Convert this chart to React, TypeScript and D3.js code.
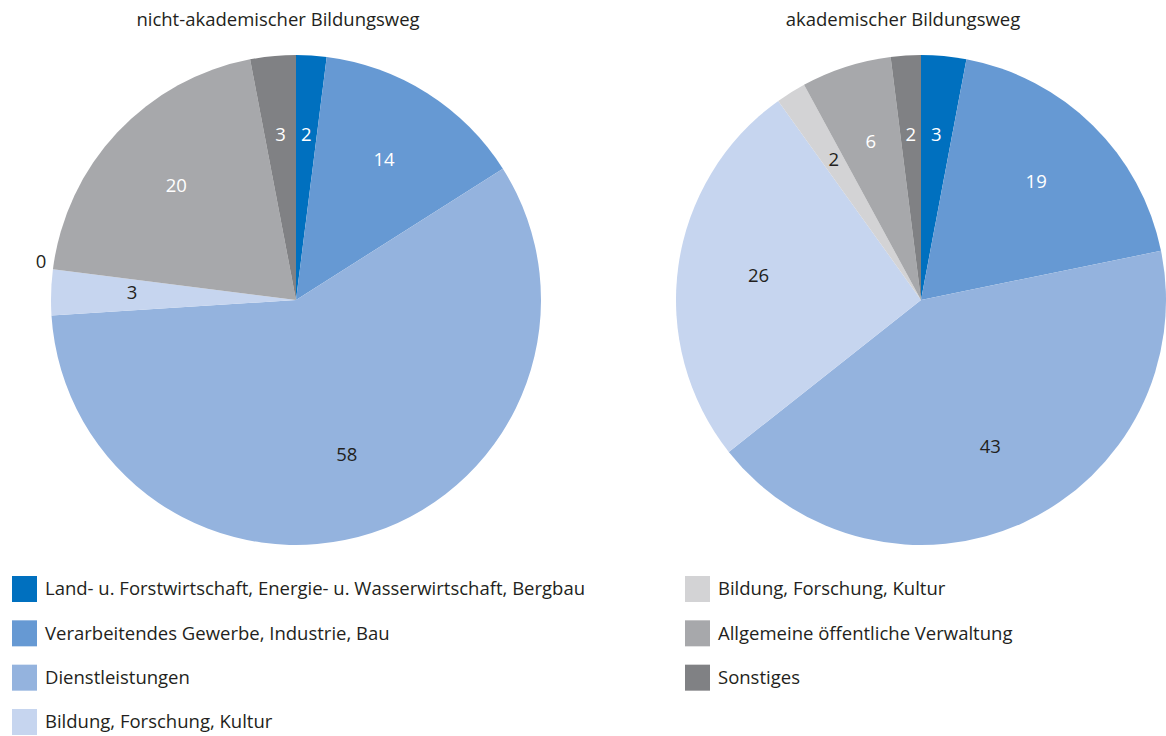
import React from "react";
import * as d3 from "d3";

// Kategorien (Legende) und Farben
const categories = [
	"Land- u. Forstwirtschaft, Energie- u. Wasserwirtschaft, Bergbau",
	"Verarbeitendes Gewerbe, Industrie, Bau",
	"Dienstleistungen",
	"Bildung, Forschung, Kultur",
	"Bildung, Forschung, Kultur",
	"Allgemeine öffentliche Verwaltung",
	"Sonstiges",
];
const colors = ["#0070bf", "#6699d3", "#94b3de", "#c6d5ef", "#d3d3d5", "#a7a8ab", "#808184"];
const whiteLabel = [true, true, false, false, false, true, true];

const titles = ["nicht-akademischer Bildungsweg", "akademischer Bildungsweg"];
const nichtAkademisch = [2, 14, 58, 3, 0, 20, 3];
const akademisch = [3, 19, 43, 26, 2, 6, 2];

const W = 1166;
const H = 736;
const R = 245;
const FONT = "'Open Sans', sans-serif";
const FS = 18.5;

function Pie({ cx, cy, title, values }: { cx: number; cy: number; title: string; values: number[] }) {
	const pie = d3
		.pie<number>()
		.sort(null)
		.value((d) => d);
	const arcs = pie(values);
	const arc = d3.arc<d3.PieArcDatum<number>>().innerRadius(0).outerRadius(R);
	const labelArc = d3.arc<d3.PieArcDatum<number>>().innerRadius(R * 0.67).outerRadius(R * 0.67);
	const outerArc = d3.arc<d3.PieArcDatum<number>>().innerRadius(R + 12).outerRadius(R + 12);

	return (
		<g transform={`translate(${cx},${cy})`}>
			<text x={-18} y={-280} dy="0.35em" textAnchor="middle" fontSize={FS} fill="#231f20" fontFamily={FONT}>
				{title}
			</text>
			{arcs.map((a, i) => (
				<path key={i} d={arc(a) || ""} fill={colors[i]} />
			))}
			{arcs.map((a, i) => {
				// leere Segmente werden außerhalb beschriftet
				const outside = a.data === 0;
				const [x, y] = outside ? outerArc.centroid(a) : labelArc.centroid(a);
				return (
					<text
						key={"l" + i}
						x={x}
						y={outside ? y - 4 : y}
						dy="0.25em"
						textAnchor="middle"
						fontSize={FS}
						fontFamily={FONT}
						fill={!outside && whiteLabel[i] ? "#ffffff" : "#231f20"}
					>
						{a.data}
					</text>
				);
			})}
		</g>
	);
}

export default function App() {
	const legendLeft = [0, 1, 2, 3];
	const legendRight = [4, 5, 6];
	const rowY = d3.scaleLinear().domain([0, 3]).range([589, 722]);

	return (
		<svg width={W} height={H} style={{ position: "absolute", left: 0, top: 0 }}>
			<rect width={W} height={H} fill="#ffffff" />
			<Pie cx={296} cy={300} title={titles[0]} values={nichtAkademisch} />
			<Pie cx={921} cy={300} title={titles[1]} values={akademisch} />
			{legendLeft.map((c, j) => (
				<g key={"ll" + c} transform={`translate(12,${rowY(j)})`}>
					<rect x={0} y={-13} width={25} height={26} fill={colors[c]} />
					<text x={33} y={0} dy="0.35em" fontSize={FS} fontFamily={FONT} fill="#231f20">
						{categories[c]}
					</text>
				</g>
			))}
			{legendRight.map((c, j) => (
				<g key={"lr" + c} transform={`translate(685,${rowY(j)})`}>
					<rect x={0} y={-13} width={25} height={26} fill={colors[c]} />
					<text x={33} y={0} dy="0.35em" fontSize={FS} fontFamily={FONT} fill="#231f20">
						{categories[c]}
					</text>
				</g>
			))}
		</svg>
	);
}
